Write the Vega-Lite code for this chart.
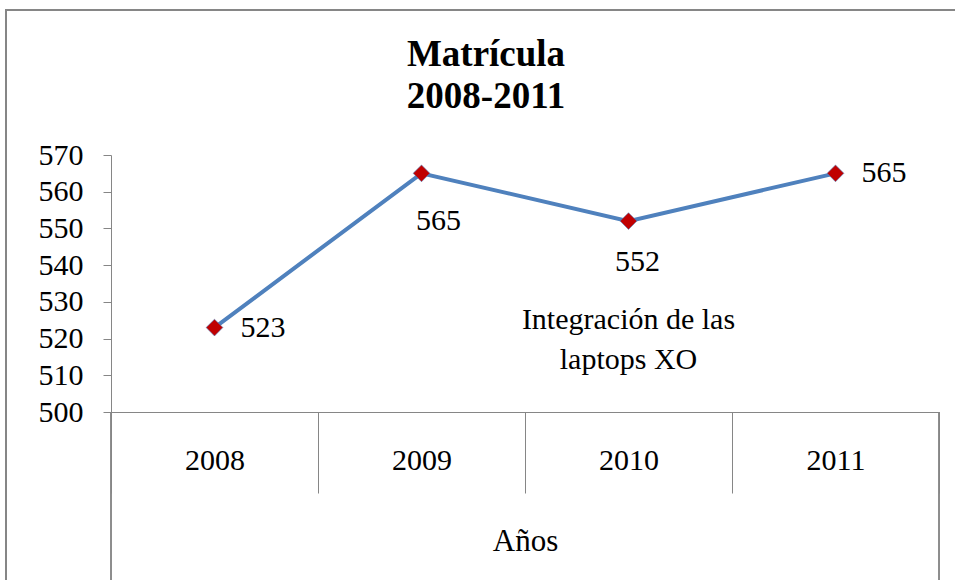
{
  "$schema": "https://vega.github.io/schema/vega-lite/v6.json",
  "autosize": {"type": "none"},
  "padding": {"left": 6, "top": 10, "right": 0, "bottom": 0},
  "width": 960,
  "height": 580,
  "background": "white",
  "config": {
    "view": {"stroke": "#868686", "strokeWidth": 2},
    "font": "Liberation Serif"
  },
  "title": {
    "text": ["Matrícula", "2008-2011"],
    "font": "Liberation Serif",
    "fontSize": 37,
    "fontWeight": "bold",
    "color": "black",
    "anchor": "middle",
    "frame": "group",
    "lineHeight": 42,
    "dy": 110
  },
  "datasets": {
    "enroll": [
      {"year": "2008", "value": 523},
      {"year": "2009", "value": 565},
      {"year": "2010", "value": 552},
      {"year": "2011", "value": 565}
    ],
    "note": [
      {"year": "2010", "level": 522.6, "note": "Integración de las\nlaptops XO"}
    ]
  },
  "resolve": {"scale": {"x": "shared", "y": "shared"}},
  "layer": [
    {
      "data": {"name": "enroll"},
      "mark": {"type": "line", "color": "#4F81BD", "strokeWidth": 4},
      "encoding": {
        "x": {
          "field": "year",
          "type": "ordinal",
          "scale": {"type": "band", "domain": ["2008", "2009", "2010", "2011"], "range": [105, 933], "paddingInner": 0, "paddingOuter": 0},
          "axis": {
            "orient": "bottom",
            "offset": -178,
            "title": "Años",
            "titleFont": "Liberation Serif",
            "titleFontSize": 31,
            "titleFontWeight": "normal",
            "titleColor": "black",
            "titlePadding": 33,
            "labelAngle": 0,
            "labelFont": "Liberation Serif",
            "labelFontSize": 30,
            "labelColor": "black",
            "labelPadding": -48,
            "labelBaseline": "top",
            "tickBand": "extent",
            "tickSize": 81,
            "tickColor": "#868686",
            "domainColor": "#868686",
            "grid": false
          }
        },
        "y": {
          "field": "value",
          "type": "quantitative",
          "scale": {"domain": [500, 570], "range": [402, 145], "nice": false, "zero": false},
          "axis": {
            "orient": "left",
            "offset": -105,
            "title": null,
            "values": [500, 510, 520, 530, 540, 550, 560, 570],
            "labelFont": "Liberation Serif",
            "labelFontSize": 30,
            "labelColor": "black",
            "labelPadding": 20,
            "tickSize": 8,
            "tickColor": "#868686",
            "domainColor": "#868686",
            "grid": false
          }
        }
      }
    },
    {
      "data": {"name": "enroll"},
      "mark": {"type": "rule", "color": "#868686", "strokeWidth": 1},
      "encoding": {
        "x": {"datum": "2008", "bandPosition": 0},
        "y": {"datum": 500},
        "y2": {"datum": 440}
      }
    },
    {
      "data": {"name": "enroll"},
      "mark": {"type": "rule", "color": "#868686", "strokeWidth": 1},
      "encoding": {
        "x": {"datum": "2011", "bandPosition": 1},
        "y": {"datum": 500},
        "y2": {"datum": 440}
      }
    },
    {
      "data": {"name": "enroll"},
      "mark": {"type": "point", "shape": "diamond", "filled": true, "size": 280, "color": "#C00000", "stroke": "#4F81BD", "strokeWidth": 0.6, "opacity": 1},
      "encoding": {
        "x": {"field": "year", "type": "ordinal"},
        "y": {"field": "value", "type": "quantitative"}
      }
    },
    {
      "data": {"name": "enroll"},
      "transform": [{"filter": "datum.year == '2008' || datum.year == '2011'"}],
      "mark": {"type": "text", "align": "left", "baseline": "middle", "dx": 26, "dy": 0, "fontSize": 30, "font": "Liberation Serif", "color": "black"},
      "encoding": {
        "x": {"field": "year", "type": "ordinal"},
        "y": {"field": "value", "type": "quantitative"},
        "text": {"field": "value", "type": "quantitative"}
      }
    },
    {
      "data": {"name": "enroll"},
      "transform": [{"filter": "datum.year == '2009'"}],
      "mark": {"type": "text", "align": "center", "baseline": "middle", "dx": 17, "dy": 48, "fontSize": 30, "font": "Liberation Serif", "color": "black"},
      "encoding": {
        "x": {"field": "year", "type": "ordinal"},
        "y": {"field": "value", "type": "quantitative"},
        "text": {"field": "value", "type": "quantitative"}
      }
    },
    {
      "data": {"name": "enroll"},
      "transform": [{"filter": "datum.year == '2010'"}],
      "mark": {"type": "text", "align": "center", "baseline": "middle", "dx": 9, "dy": 41, "fontSize": 30, "font": "Liberation Serif", "color": "black"},
      "encoding": {
        "x": {"field": "year", "type": "ordinal"},
        "y": {"field": "value", "type": "quantitative"},
        "text": {"field": "value", "type": "quantitative"}
      }
    },
    {
      "data": {"name": "note"},
      "mark": {"type": "text", "align": "center", "baseline": "alphabetic", "lineBreak": "\n", "lineHeight": 40, "fontSize": 30, "font": "Liberation Serif", "color": "black"},
      "encoding": {
        "x": {"field": "year", "type": "ordinal"},
        "y": {"field": "level", "type": "quantitative"},
        "text": {"field": "note", "type": "nominal"}
      }
    }
  ]
}
